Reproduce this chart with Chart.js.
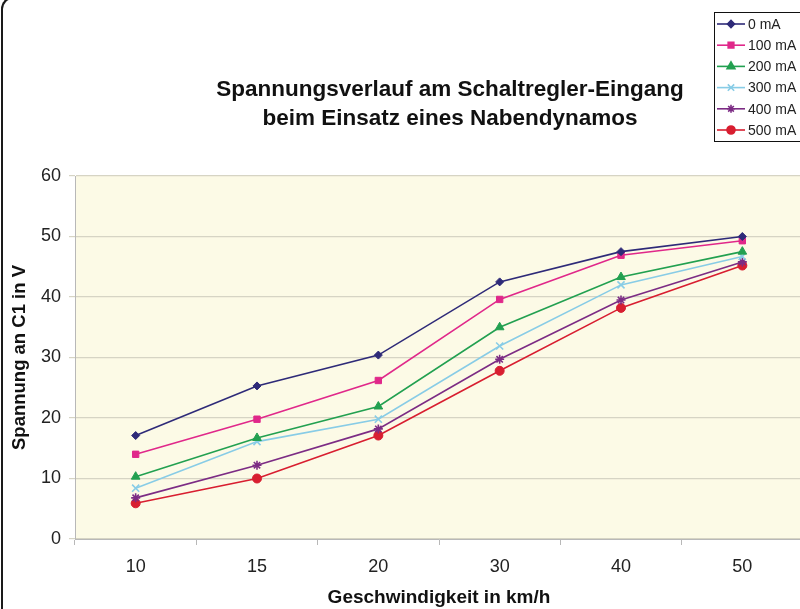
<!DOCTYPE html>
<html>
<head>
<meta charset="utf-8">
<script src="https://cdn.jsdelivr.net/npm/chart.js@4.4.1/dist/chart.umd.min.js"></script>
<style>
  html, body { margin:0; padding:0; background:#fff; overflow:hidden; }
  #wrap { position:relative; width:800px; height:609px; overflow:hidden; }
  #frame { position:absolute; left:1px; top:-3px; width:900px; height:700px;
    border-left:2px solid #1a1a1a; border-top:2px solid #1a1a1a; border-top-left-radius:12px; pointer-events:none; }
  canvas { position:absolute; left:0; top:0; }
</style>
</head>
<body>
<div id="wrap">
  <canvas id="c" width="810" height="609"></canvas>
  <div id="frame"></div>
</div>
<script>
// km/h categories
const speeds = ['10', '15', '20', '30', '40', '50'];
const loads  = ['0 mA', '100 mA', '200 mA', '300 mA', '400 mA', '500 mA'];

// voltage at C1 (V) per load current
const v0   = [17.1, 25.3, 30.4, 42.5, 47.5, 50.0];
const v100 = [14.0, 19.8, 26.2, 39.6, 46.9, 49.3];
const v200 = [10.3, 16.7, 21.9, 35.0, 43.3, 47.5];
const v300 = [8.4, 16.1, 19.8, 31.9, 42.0, 46.7];
const v400 = [6.8, 12.2, 18.2, 29.7, 39.5, 45.8];
const v500 = [5.9, 10.0, 17.1, 27.8, 38.2, 45.2];

const titleLines = ['Spannungsverlauf am Schaltregler-Eingang', 'beim Einsatz eines Nabendynamos'];

const colors = ['#2e2a78', '#e0288a', '#22a050', '#88cce6', '#7c2c84', '#d81e30'];
const styles = ['rectRot', 'rect', 'triangle', 'crossRot', 'star', 'circle'];
const radii  = [4, 4.5, 5, 5, 4.5, 4.5];

const series = [v0, v100, v200, v300, v400, v500];
const FONT = 'Liberation Sans, Arial, Helvetica, sans-serif';

const datasets = series.map((d, i) => ({
  label: loads[i], data: d,
  borderColor: colors[i], backgroundColor: colors[i],
  borderWidth: 1.6, tension: 0,
  pointStyle: styles[i], pointRadius: radii[i],
  pointBorderWidth: styles[i] === 'crossRot' || styles[i] === 'star' ? 1.6 : 1,
  pointBorderColor: colors[i], pointBackgroundColor: colors[i],
}));

// plot background, title and boxed legend
const deco = {
  id: 'deco',
  beforeDraw(chart) {
    const { ctx, chartArea: a } = chart;
    ctx.save();
    ctx.fillStyle = '#fcfae6';
    ctx.fillRect(a.left, a.top, a.right - a.left, a.bottom - a.top);
    ctx.restore();
  },
  afterDraw(chart) {
    const ctx = chart.ctx;
    ctx.save();
    ctx.fillStyle = '#111';
    ctx.font = 'bold 22.5px ' + FONT;
    ctx.textAlign = 'center';
    ctx.textBaseline = 'middle';
    ctx.fillText(titleLines[0], 450, 90);
    ctx.fillText(titleLines[1], 450, 119);

    // legend box
    ctx.fillStyle = '#fff';
    ctx.fillRect(714, 12, 100, 130);
    ctx.strokeStyle = '#111';
    ctx.lineWidth = 1;
    ctx.strokeRect(714.5, 12.5, 100, 129);
    ctx.font = '14px ' + FONT;
    ctx.textAlign = 'left';
    loads.forEach((l, i) => {
      const y = 24 + i * 21.2;
      ctx.strokeStyle = colors[i];
      ctx.fillStyle = colors[i];
      ctx.lineWidth = 1.6;
      ctx.beginPath(); ctx.moveTo(717, y); ctx.lineTo(745, y); ctx.stroke();
      Chart.helpers.drawPoint(ctx, { pointStyle: styles[i], radius: radii[i] - 0.5, rotation: 0,
        borderWidth: datasets[i].pointBorderWidth }, 731, y);
      ctx.fillStyle = '#222';
      ctx.fillText(l, 748, y + 1);
    });
    ctx.restore();
  }
};

new Chart(document.getElementById('c'), {
  type: 'line',
  data: { labels: speeds, datasets },
  plugins: [deco],
  options: {
    responsive: false, animation: false,
    layout: { padding: { top: 176, right: 7, bottom: 0, left: 0 } },
    plugins: { legend: { display: false }, title: { display: false }, tooltip: { enabled: false } },
    scales: {
      x: {
        offset: true,
        afterFit: s => { s.height = 70; },
        grid: { drawOnChartArea: false, drawTicks: true, tickLength: 6, color: '#b8b8b8', offset: true },
        border: { color: '#b8b8b8', width: 1 },
        ticks: { color: '#222', font: { size: 18, family: FONT }, padding: 11 },
        title: { display: true, text: 'Geschwindigkeit in km/h', color: '#111',
          font: { size: 19, weight: 'bold', family: FONT }, padding: { top: 0, bottom: 0 } }
      },
      y: {
        min: 0, max: 60,
        afterFit: s => { s.width = 75; },
        grid: { color: '#d6d4c4', tickLength: 6, lineWidth: 1.2 },
        border: { color: '#b8b8b8', width: 1 },
        ticks: { stepSize: 10, color: '#222', font: { size: 18, family: FONT }, padding: 8 },
        title: { display: true, text: 'Spannung an C1 in V', color: '#111',
          font: { size: 18.5, weight: 'bold', family: FONT }, padding: { top: 9, bottom: 0 } }
      }
    }
  }
});
</script>
</body>
</html>
